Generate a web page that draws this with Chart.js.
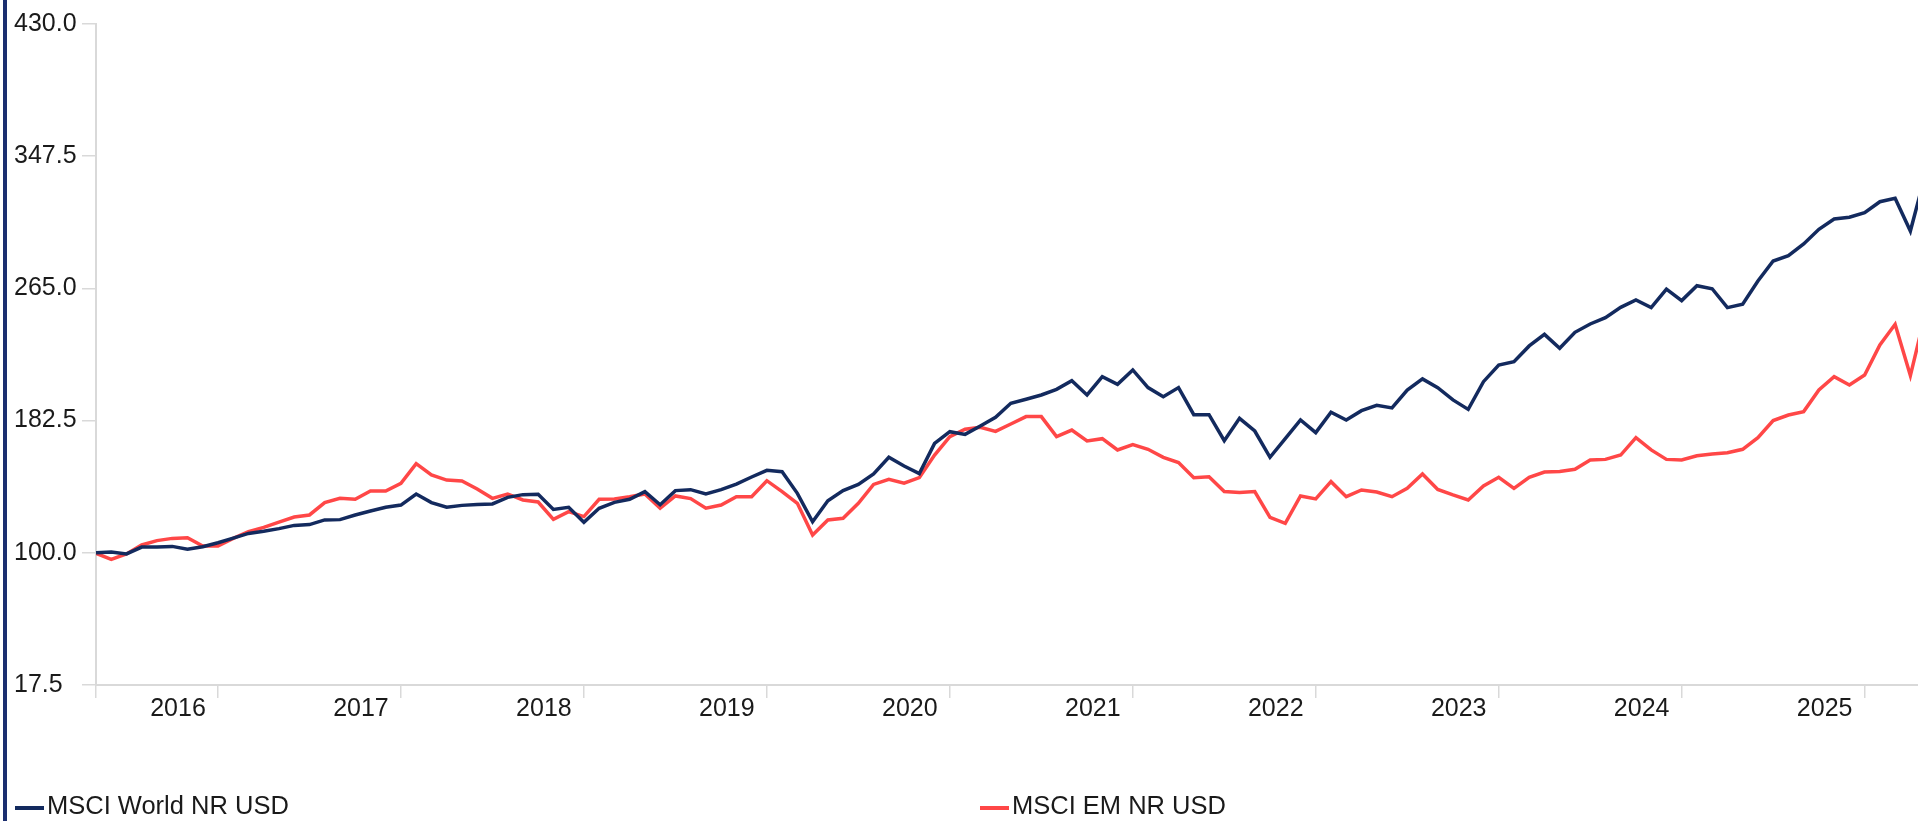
<!DOCTYPE html>
<html>
<head>
<meta charset="utf-8">
<title>MSCI World NR USD vs MSCI EM NR USD</title>
<script src="https://cdn.jsdelivr.net/npm/chart.js@4.4.1/dist/chart.umd.min.js"></script>
<style>
  html, body { margin: 0; padding: 0; background: #fff; }
  #wrap { position: relative; width: 1918px; height: 821px; overflow: hidden; }
  #edge { position: absolute; left: 3px; top: 0; width: 4px; height: 821px; background: #1b2e6f; }
  canvas { display: block; }
</style>
</head>
<body>
<div id="wrap">
  <canvas id="growthChart" width="1918" height="821"></canvas>
  <div id="edge"></div>
</div>
<script>
// Серии (рост 100, помесячно с апреля 2016)
const seriesNames = ['MSCI World NR USD', 'MSCI EM NR USD'];

const worldNR = [
  100.0, 100.5, 99.3, 103.6, 103.6, 104.0, 102.2, 103.8, 106.3, 109.2,
  112.1, 113.4, 115.1, 117.1, 117.6, 120.5, 120.7, 123.6, 126.1, 128.4,
  129.8, 136.7, 131.3, 128.4, 129.6, 130.2, 130.5, 134.6, 136.3, 136.6,
  127.1, 128.4, 119.0, 127.8, 131.5, 133.4, 138.2, 130.0, 138.8, 139.4,
  136.7, 139.4, 142.9, 147.3, 151.5, 150.6, 137.1, 119.4, 132.5, 138.8,
  142.7, 149.2, 159.6, 154.2, 149.4, 168.3, 175.6, 173.9, 179.1, 184.5,
  193.3, 195.8, 198.5, 202.0, 207.4, 198.5, 209.9, 205.1, 214.1, 203.1,
  197.4, 203.1, 186.2, 186.2, 170.0, 183.9, 176.0, 159.6, 171.2, 182.9,
  175.0, 187.7, 182.9, 188.7, 192.0, 190.4, 201.6, 208.5, 203.0, 195.4,
  189.5, 206.8, 217.2, 219.3, 229.1, 236.3, 227.6, 237.6, 242.8, 246.7,
  253.2, 257.8, 253.0, 264.6, 257.4, 266.7, 264.8, 253.0, 255.1, 269.6,
  282.1, 285.4, 292.7, 301.9, 308.3, 309.4, 312.3, 319.1, 321.2, 300.8,
  337.0
];

const emNR = [
  99.7, 95.9, 99.3, 104.9, 107.6, 109.0, 109.4, 104.2, 104.2, 109.0,
  113.2, 115.9, 119.2, 122.3, 123.6, 131.3, 134.0, 133.4, 138.6, 138.6,
  143.4, 155.6, 148.6, 145.4, 144.8, 139.8, 134.0, 136.7, 133.0, 131.7,
  120.9, 125.7, 122.6, 133.4, 133.6, 135.0, 136.7, 127.8, 135.5, 133.8,
  127.8, 129.8, 135.0, 135.0, 145.0, 138.2, 130.9, 111.1, 120.5, 121.5,
  130.9, 142.7, 145.9, 143.4, 146.9, 161.0, 172.5, 177.1, 178.3, 175.8,
  180.4, 185.0, 185.0, 172.5, 176.6, 169.8, 171.2, 164.2, 167.5, 164.6,
  159.6, 156.3, 146.9, 147.5, 138.2, 137.7, 138.2, 122.1, 118.4, 135.5,
  133.6, 144.4, 135.0, 139.2, 137.9, 135.0, 140.2, 149.2, 139.5, 136.1,
  133.0, 141.7, 147.1, 140.2, 147.1, 150.4, 150.8, 152.1, 157.9, 158.3,
  161.0, 171.9, 164.2, 158.3, 157.9, 160.6, 161.7, 162.5, 164.6, 171.9,
  182.5, 186.0, 188.1, 201.6, 209.9, 204.7, 211.0, 229.7, 242.6, 210.6,
  250.0
];

const yearLabels = ['2016', '2017', '2018', '2019', '2020', '2021', '2022', '2023', '2024', '2025'];
const yTicks = [17.5, 100.0, 182.5, 265.0, 347.5, 430.0];

// Месяцы: 2016-04 ... (по длине серии)
const months = [];
for (let i = 0; i < worldNR.length; i++) {
    const d = new Date(2016, 3 + i, 1);
    months.push(d.getFullYear() + '-' + String(d.getMonth() + 1).padStart(2, '0'));
}
// Деления оси X - конец каждого года
const decIdx = months.map((m, i) => m.endsWith('-12') ? i : -1).filter(i => i >= 0);

const FONT = '"Liberation Sans", Arial, Helvetica, sans-serif';
Chart.defaults.font.family = FONT;
Chart.defaults.font.size = 25;
Chart.defaults.color = '#1a1a1a';

const lineColors = ['#132a5e', '#ff4747'];
const axisGray = '#d9d9d9';

// Легенда внизу, как в оригинале (два элемента далеко друг от друга)
const bottomLegend = {
    id: 'bottomLegend',
    afterDraw(chart) {
        const ctx = chart.ctx;
        const y = chart.height - 14;
        const starts = [15, 980];
        ctx.save();
        ctx.font = '25.5px ' + FONT;
        ctx.textBaseline = 'middle';
        ctx.textAlign = 'left';
        chart.data.datasets.forEach((ds, i) => {
            const x = starts[i];
            ctx.strokeStyle = ds.borderColor;
            ctx.lineWidth = 4;
            ctx.beginPath();
            ctx.moveTo(x, y + 1);
            ctx.lineTo(x + 29, y + 1);
            ctx.stroke();
            ctx.fillStyle = '#1a1a1a';
            ctx.fillText(ds.label, x + 32, y);
        });
        ctx.restore();
    }
};

function toPoints(values) {
    return values.map((v, i) => ({ x: i, y: v }));
}

const ctx = document.getElementById('growthChart').getContext('2d');

const chartInstance = new Chart(ctx, {
    type: 'line',
    data: {
        labels: months,
        datasets: [
            {
                label: seriesNames[0],
                data: toPoints(worldNR),
                borderColor: lineColors[0],
                borderWidth: 3.5,
                pointRadius: 0,
                tension: 0,
                fill: false
            },
            {
                label: seriesNames[1],
                data: toPoints(emNR),
                borderColor: lineColors[1],
                borderWidth: 3.5,
                pointRadius: 0,
                tension: 0,
                fill: false
            }
        ]
    },
    options: {
        responsive: false,
        animation: false,
        devicePixelRatio: 1,
        layout: {
            padding: { top: 24, left: 14, right: 0, bottom: 86 }
        },
        plugins: {
            legend: { display: false },
            tooltip: { enabled: false }
        },
        scales: {
            x: {
                type: 'linear',
                min: 0,
                max: months.length - 1.5,
                afterBuildTicks: scale => {
                    scale.ticks = [0, ...decIdx].map(v => ({ value: v }));
                },
                afterFit: scale => { scale.height = 50; },
                grid: {
                    drawOnChartArea: false,
                    drawTicks: true,
                    tickLength: 13,
                    color: axisGray,
                    lineWidth: 1.5
                },
                border: { display: true, color: axisGray, width: 2 },
                ticks: {
                    autoSkip: false,
                    maxRotation: 0,
                    minRotation: 0,
                    padding: -4,
                    labelOffset: -40,
                    callback: value => {
                        const k = decIdx.indexOf(value);
                        return k >= 0 ? yearLabels[k] : '';
                    }
                }
            },
            y: {
                type: 'linear',
                min: yTicks[0],
                max: yTicks[yTicks.length - 1],
                afterBuildTicks: scale => {
                    scale.ticks = yTicks.map(v => ({ value: v }));
                },
                afterFit: scale => { scale.width = 82; },
                grid: {
                    drawOnChartArea: false,
                    tickLength: 14,
                    color: axisGray,
                    lineWidth: 1.5
                },
                border: { display: true, color: axisGray, width: 2 },
                ticks: {
                    crossAlign: 'far',
                    callback: value => value.toFixed(1)
                }
            }
        }
    },
    plugins: [bottomLegend]
});
</script>
</body>
</html>
